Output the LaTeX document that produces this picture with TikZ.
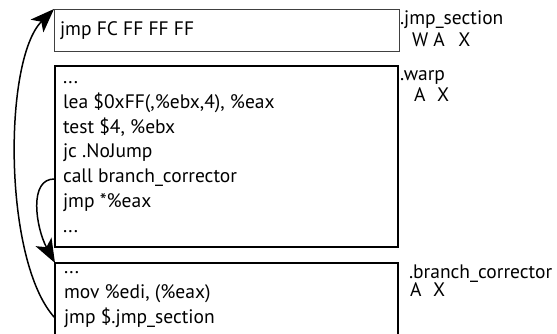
\documentclass[tikz,border=0pt]{standalone}
\usepackage{fontspec}
\setmainfont{PT Sans}
\usetikzlibrary{arrows.meta}
\begin{document}
\begin{tikzpicture}[x=1bp,y=-1bp,
  every node/.style={inner sep=0pt, outer sep=0pt, font=\fontsize{19.5bp}{23bp}\selectfont},
  code/.style={anchor=base west},
  lbl/.style={anchor=base west},
  jumparrow/.style={line width=1.5bp, -{Stealth[length=24bp,width=18bp,inset=6bp]}}]
\useasboundingbox (0,0) rectangle (557,333);
\clip (0,0) rectangle (557,333);

% section boxes
\node[draw=black!75, line width=1bp, anchor=north west, minimum width=345bp, minimum height=42bp] (jmpsec) at (54,9) {};
\node[draw, line width=2bp, anchor=north west, minimum width=343bp, minimum height=181bp] (warp) at (55,66) {};
\node[draw, line width=1.2bp, anchor=north west, minimum width=343bp, minimum height=100bp] (bc) at (55,263) {};

% code in .jmp_section
\node[code] (j1) at (60,35) {jmp FC FF FF FF};

% code in .warp
\node[code] (w1) at (63,83) {...};
\node[code] (w2) at (63,108) {lea \$0xFF(,\%ebx,4), \%eax};
\node[code] (w3) at (63,133) {test \$4, \%ebx};
\node[code] (w4) at (63,157) {jc .NoJump};
\node[code] (w5) at (63,182) {call branch\_corrector};
\node[code] (w6) at (63,207) {jmp *\%eax};
\node[code] (w7) at (63,232) {...};

% code in .branch_corrector
\node[code] (b1) at (64,273) {...};
\node[code] (b2) at (64,298) {mov \%edi, (\%eax)};
\node[code] (b3) at (64,323) {jmp \$.jmp\_section};

% section names and flags
\node[lbl] (n1) at (400,24) {.jmp\_section};
\node[lbl] (f1) at (412,46) {W A\hspace{0.7em}X};
\node[lbl] (n2) at (400,80) {.warp};
\node[lbl] (f2) at (414,101) {A\hspace{0.6em}X};
\node[lbl] (n3) at (409,278) {.branch\_corrector};
\node[lbl] (f3) at (410,296) {A\hspace{0.6em}X};

% jump targets
\coordinate (callsrc) at (warp.west |- 0,179);
\coordinate (retsrc) at (bc.west |- 0,318);

\draw[jumparrow] (callsrc) .. controls (28,178) and (36,228) .. (bc.north west);
\draw[jumparrow] (retsrc) .. controls (3,262) and (3,60) .. (jmpsec.north west);
\end{tikzpicture}
\end{document}
